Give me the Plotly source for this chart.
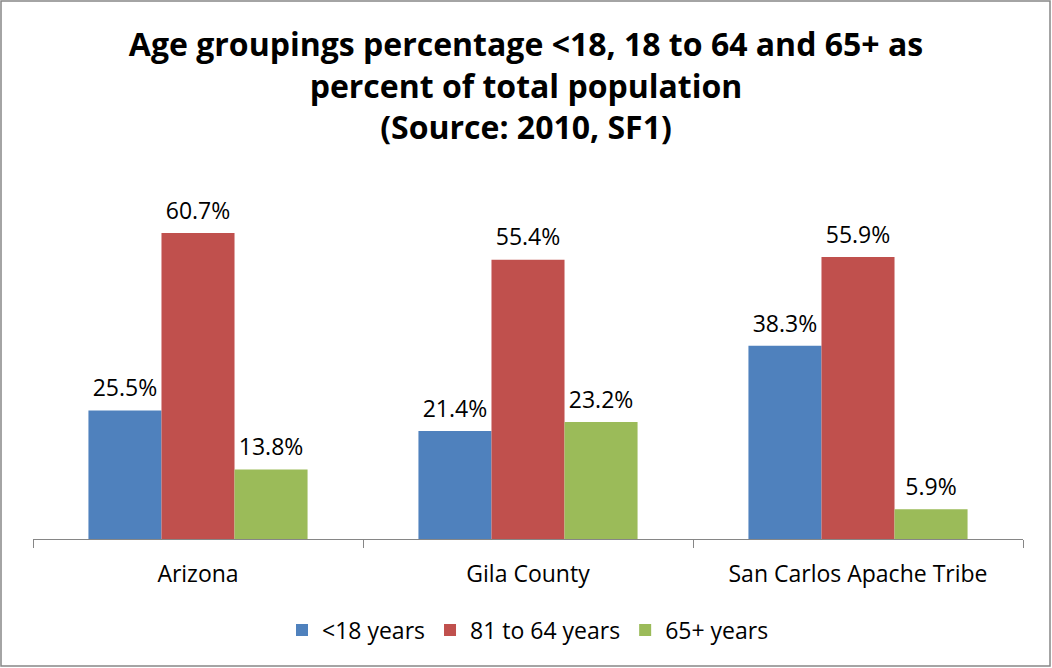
import plotly.graph_objects as go

categories = ["Arizona", "Gila County", "San Carlos Apache Tribe"]
under_18 = [25.5, 21.4, 38.3]
age_18_64 = [60.7, 55.4, 55.9]
age_65_plus = [13.8, 23.2, 5.9]
series_names = ["<18 years", "81 to 64 years", "65+ years"]
colors = ["#4F81BD", "#C0504D", "#9BBB59"]

W, H = 1052, 668
ml, mr, mt, mb = 33, 29, 186, 129
FONT = "Open Sans, sans-serif"

fig = go.Figure()
series = [under_18, age_18_64, age_65_plus]
for i, (name, vals, col) in enumerate(zip(series_names, series, colors)):
    fig.add_trace(go.Bar(
        x=categories, y=vals, name=name, offsetgroup=str(i),
        marker=dict(color=col, line=dict(width=0)),
    ))
# value labels, placed above the bars with an invisible marker for padding
for i, vals in enumerate(series):
    fig.add_trace(go.Scatter(
        x=categories, y=vals, mode="markers+text", offsetgroup=str(i),
        marker=dict(size=12, opacity=0), showlegend=False, hoverinfo="skip",
        text=[f"{v:.1f}%" for v in vals], textposition="top center",
        textfont=dict(size=23, color="black", family=FONT),
        cliponaxis=False,
    ))

fig.update_layout(
    width=W, height=H,
    margin=dict(l=ml, r=mr, t=mt, b=mb),
    paper_bgcolor="white", plot_bgcolor="white",
    font=dict(family=FONT, color="black"),
    title=dict(
        text="Age groupings percentage <18, 18 to 64 and 65+ as<br>percent of total population<br>(Source: 2010, SF1)",
        x=0.5, xanchor="center", y=1 - 56 / H, yanchor="top",
        font=dict(size=32, family=FONT, color="black", weight="bold"),
    ),
    barmode="group", bargap=0.336, bargroupgap=0,
    scattermode="group", scattergap=0.336,
    showlegend=True,
    legend=dict(orientation="h", x=0.5, xanchor="center", y=-(630 - (H - mb)) / (H - mt - mb),
                yanchor="middle", font=dict(size=23), itemwidth=30, traceorder="normal"),
    xaxis=dict(showline=True, linecolor="#868686", linewidth=1, ticks="outside",
               tickson="boundaries", ticklen=8, tickcolor="#868686",
               ticklabelstandoff=14, tickfont=dict(size=23)),
    yaxis=dict(visible=False, range=[0, 70]),
)

# outer border of the chart area
def px_x(p):
    return (p - ml) / (W - ml - mr)

def px_y(p):
    return (H - mb - p) / (H - mt - mb)

fig.add_shape(type="rect", xref="paper", yref="paper",
              x0=px_x(1), x1=px_x(W - 2), y0=px_y(1), y1=px_y(H - 2),
              line=dict(color="#868686", width=1.5), fillcolor="rgba(0,0,0,0)")

fig.write_html("out.html", config={"displayModeBar": False},
               post_script="document.body.style.margin='0';")
